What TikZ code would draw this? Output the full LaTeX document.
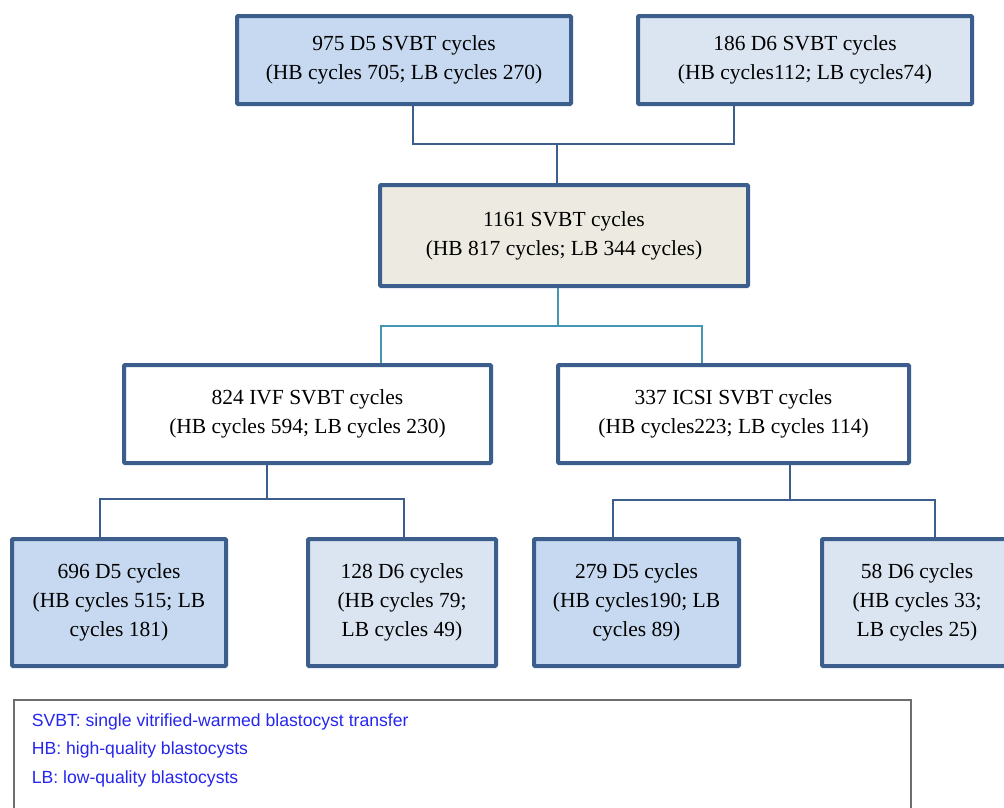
\documentclass[tikz,border=0pt]{standalone}
\usepackage{fontspec}
\setmainfont{Liberation Serif}
\newfontfamily\legfont{Liberation Sans}
\definecolor{bordc}{HTML}{3B5E8C}
\definecolor{fillA}{HTML}{C6D9F0}
\definecolor{fillB}{HTML}{DBE5F1}
\definecolor{fillC}{HTML}{EDEBE1}
\definecolor{tealc}{HTML}{4596B0}
\definecolor{legc}{HTML}{2525EE}
\definecolor{leggray}{HTML}{6D6D6D}
\begin{document}
\begin{tikzpicture}[x=1pt,y=-1pt,
  boxb/.style={draw=bordc,line width=4pt,rounded corners=1pt,align=center,
    font=\fontsize{21.5}{29}\selectfont,inner sep=0pt},
  conn/.style={draw=bordc,line width=2.2pt},
  tconn/.style={draw=tealc,line width=2.4pt},
  legtext/.style={anchor=base west,inner sep=0pt,text=legc,font=\legfont\fontsize{17.6}{21}\selectfont}]
\useasboundingbox (0,0) rectangle (1004,807);
% boxes
\node[boxb,fill=fillA,minimum width=334pt,minimum height=88pt] (d5top) at (404,60)
  {975 D5 SVBT cycles\\(HB cycles 705; LB cycles 270)};
\node[boxb,fill=fillB,minimum width=334pt,minimum height=88pt] (d6top) at (805,60)
  {186 D6 SVBT cycles\\(HB cycles112; LB cycles74)};
\node[boxb,fill=fillC,minimum width=368pt,minimum height=101pt] (total) at (564,235.5)
  {1161 SVBT cycles\\(HB 817 cycles; LB 344 cycles)};
\node[boxb,fill=white,minimum width=367pt,minimum height=98pt] (ivf) at (307.5,414)
  {824 IVF SVBT cycles\\(HB cycles 594; LB cycles 230)};
\node[boxb,fill=white,minimum width=351pt,minimum height=98pt] (icsi) at (733.5,414)
  {337 ICSI SVBT cycles\\(HB cycles223; LB cycles 114)};
\node[boxb,fill=fillA,minimum width=214pt,minimum height=127pt] (b1) at (119,602.5)
  {696 D5 cycles\\(HB cycles 515; LB\\cycles 181)};
\node[boxb,fill=fillB,minimum width=188pt,minimum height=127pt] (b2) at (402,602.5)
  {128 D6 cycles\\(HB cycles 79;\\LB cycles 49)};
\node[boxb,fill=fillA,minimum width=205pt,minimum height=127pt] (b3) at (636.5,602.5)
  {279 D5 cycles\\(HB cycles190; LB\\cycles 89)};
\node[boxb,fill=fillB,minimum width=190pt,minimum height=127pt] (b4) at (917,602.5)
  {58 D6 cycles\\(HB cycles 33;\\LB cycles 25)};
% connectors
\coordinate (j1) at (557,144);
\draw[conn] ([xshift=9pt]d5top.south) |- ([xshift=-71pt]d6top.south |- j1) -- ([xshift=-71pt]d6top.south);
\draw[conn] (j1) -- (j1 |- total.north);
\coordinate (j2) at (558,326);
\draw[tconn] (j2 |- total.south) -- (j2);
\draw[tconn] ([xshift=73.5pt]ivf.north) |- ([xshift=-31.5pt]icsi.north |- j2) -- ([xshift=-31.5pt]icsi.north);
\coordinate (j3) at (267,499);
\draw[conn] (j3 |- ivf.south) -- (j3);
\draw[conn] ([xshift=-19pt]b1.north) |- ([xshift=2pt]b2.north |- j3) -- ([xshift=2pt]b2.north);
\coordinate (j4) at (790,500);
\draw[conn] (j4 |- icsi.south) -- (j4);
\draw[conn] ([xshift=-23.5pt]b3.north) |- ([xshift=18pt]b4.north |- j4) -- ([xshift=18pt]b4.north);
% legend
\node[draw=leggray,line width=2pt,anchor=north,minimum width=897pt,minimum height=140pt,inner sep=0pt] (legend) at (462.5,699) {};
\node[legtext] (leg1) at (31.7,726) {SVBT: single vitrified-warmed blastocyst transfer};
\node[legtext] (leg2) at (31.7,754.5) {HB: high-quality blastocysts};
\node[legtext] (leg3) at (31.7,783) {LB: low-quality blastocysts};
\end{tikzpicture}
\end{document}
